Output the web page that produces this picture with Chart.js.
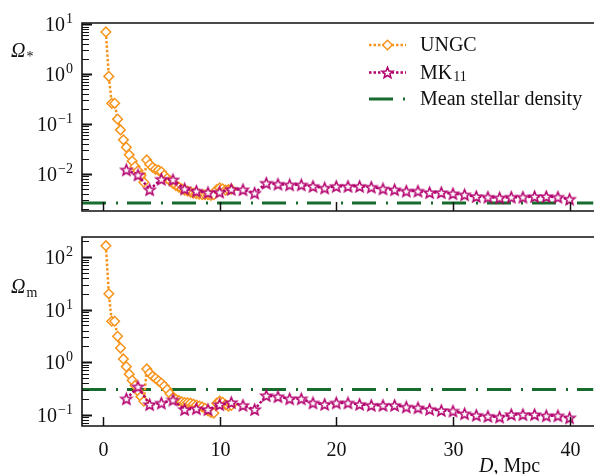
<!DOCTYPE html>
<html>
<head>
<meta charset="utf-8">
<script src="https://cdn.jsdelivr.net/npm/chart.js@4.4.1/dist/chart.umd.min.js"></script>
<style>
  html, body { margin: 0; padding: 0; background: #fff; overflow: hidden; width: 594px; height: 474px; }
  canvas { position: absolute; left: 0; }
  #topChart { top: 0; }
  #bottomChart { top: 230px; }
</style>
</head>
<body>
<canvas id="topChart" width="600" height="230"></canvas>
<canvas id="bottomChart" width="600" height="244"></canvas>
<script>
// distances, Mpc
const ungcD = [0.25, 0.5, 0.75, 1.0, 1.25, 1.5, 1.75, 2.0, 2.25, 2.5, 2.75, 3.0, 3.25, 3.5, 3.75,
  4.0, 4.25, 4.5, 4.75, 5.0, 5.25, 5.5, 5.75, 6.0, 6.25, 6.5, 6.75, 7.0, 7.25, 7.5, 7.75,
  8.0, 8.25, 8.5, 8.75, 9.0, 9.25, 9.5, 9.75, 10.0, 10.25, 10.5, 10.75, 11.0];
const ungcStar = [7.0, 0.9, 0.26, 0.26, 0.125, 0.076, 0.048, 0.034, 0.024, 0.018, 0.014, 0.0115, 0.0092, 0.0068, 0.019,
  0.0155, 0.0135, 0.0123, 0.0118, 0.011, 0.0093, 0.0081, 0.0072, 0.0064, 0.0058, 0.0054, 0.0050, 0.0047, 0.0045, 0.0043, 0.0041,
  0.0040, 0.0039, 0.0038, 0.0038, 0.0038, 0.0037, 0.0038, 0.0048, 0.0052, 0.0050, 0.0047, 0.0048, 0.0049];
const ungcMatter = [165, 20, 6.0, 6.0, 3.1, 1.85, 1.15, 0.82, 0.59, 0.45, 0.36, 0.28, 0.22, 0.18, 0.74,
  0.62, 0.54, 0.49, 0.44, 0.40, 0.35, 0.30, 0.25, 0.21, 0.195, 0.185, 0.175, 0.17, 0.168, 0.165, 0.158,
  0.152, 0.145, 0.14, 0.132, 0.118, 0.11, 0.107, 0.165, 0.18, 0.172, 0.155, 0.145, 0.15];

const mkD = [2, 3, 4, 5, 6, 7, 8, 9, 10, 11, 12, 13, 14, 15, 16, 17, 18, 19, 20, 21,
  22, 23, 24, 25, 26, 27, 28, 29, 30, 31, 32, 33, 34, 35, 36, 37, 38, 39, 40];
const mkStar = [0.012, 0.0095, 0.0048, 0.0078, 0.0076, 0.0050, 0.0045, 0.0042, 0.0043, 0.0049, 0.0048, 0.0041, 0.0065, 0.0062, 0.0060, 0.0060, 0.0056, 0.0052, 0.0056, 0.0056,
  0.0056, 0.0054, 0.0050, 0.0048, 0.0045, 0.0045, 0.0042, 0.0042, 0.0040, 0.0038, 0.0035, 0.0034, 0.0033, 0.0034, 0.0034, 0.0035, 0.0035, 0.0034, 0.0031];
const mkMatter = [0.20, 0.34, 0.155, 0.166, 0.19, 0.125, 0.13, 0.125, 0.155, 0.17, 0.15, 0.125, 0.23, 0.22, 0.20, 0.20, 0.167, 0.157, 0.167, 0.167,
  0.157, 0.15, 0.15, 0.15, 0.14, 0.135, 0.126, 0.12, 0.117, 0.104, 0.097, 0.093, 0.09, 0.10, 0.10, 0.10, 0.095, 0.095, 0.087];

const meanStar = 0.0026;
const meanMatter = 0.30;

const xTicks = [0, 10, 20, 30, 40];
const topExps = [-2, -1, 0, 1];
const bottomExps = [-1, 0, 1, 2];
const legendLabels = ["UNGC", "MK", "Mean stellar density"];

const X_MIN = -1.8, X_MAX = 42.05;
const ORANGE = "#f7941d";
const MAGENTA = "#b3006e";
const GREEN = "#176b2c";
const SERIF = '"Liberation Serif", "DejaVu Serif", serif';
const MEAN_DASH = [24, 10, 2, 9];
const DOTS = [2.5, 2];

// open five-point star used as point style
const makeStar = () => {
  const c = document.createElement("canvas");
  c.width = 15; c.height = 15;
  const g = c.getContext("2d");
  g.beginPath();
  for (let i = 0; i < 10; i++) {
    const r = i % 2 === 0 ? 5.8 : 2.5;
    const a = -Math.PI / 2 + i * Math.PI / 5;
    const px = 7.5 + r * Math.cos(a), py = 8 + r * Math.sin(a);
    if (i === 0) g.moveTo(px, py); else g.lineTo(px, py);
  }
  g.closePath();
  g.fillStyle = "#fff";
  g.fill();
  g.strokeStyle = MAGENTA;
  g.lineWidth = 1.5;
  g.stroke();
  return c;
};
const starImg = makeStar();

const pts = (xs, ys) => xs.map((x, i) => ({ x, y: ys[i] }));

const drawPow = (ctx, exp, xRight, yMid) => {
  const base = "10";
  const sup = exp < 0 ? "\u2212" + (-exp) : String(exp);
  ctx.font = `20px ${SERIF}`;
  const wb = ctx.measureText(base).width;
  ctx.font = `14px ${SERIF}`;
  const ws = ctx.measureText(sup).width;
  const x0 = xRight - wb - ws - 1;
  ctx.textAlign = "left";
  ctx.textBaseline = "alphabetic";
  ctx.font = `20px ${SERIF}`;
  ctx.fillText(base, x0, yMid + 7);
  ctx.font = `14px ${SERIF}`;
  ctx.fillText(sup, x0 + wb + 1, yMid - 1);
};

const framePlugin = {
  id: "frame",
  afterDraw(chart, args, opts) {
    const { ctx, chartArea: a, scales: { x, y } } = chart;
    ctx.save();
    ctx.fillStyle = "#111";
    ctx.strokeStyle = "#111";

    // y ticks (log, inward)
    const lo = Math.floor(Math.log10(y.min)), hi = Math.ceil(Math.log10(y.max));
    for (let e = lo; e <= hi; e++) {
      for (let m = 1; m <= 9; m++) {
        const v = m * Math.pow(10, e);
        if (v < y.min || v > y.max) continue;
        const py = Math.round(y.getPixelForValue(v)) + 0.5;
        ctx.lineWidth = m === 1 ? 2 : 1;
        ctx.beginPath();
        ctx.moveTo(a.left, py);
        ctx.lineTo(a.left + (m === 1 ? 10 : 7), py);
        ctx.stroke();
      }
    }
    opts.exps.forEach(e => drawPow(ctx, e, 73, y.getPixelForValue(Math.pow(10, e))));

    // x ticks (inward)
    ctx.lineWidth = 1.5;
    xTicks.forEach(t => {
      const px = Math.round(x.getPixelForValue(t)) + 0.5;
      ctx.beginPath();
      ctx.moveTo(px, a.bottom);
      ctx.lineTo(px, a.bottom - 9);
      ctx.stroke();
      if (opts.xLabels) {
        ctx.font = `20px ${SERIF}`;
        ctx.textAlign = "center";
        ctx.textBaseline = "middle";
        ctx.fillText(String(t), px, a.bottom + 25);
      }
    });

    // frame: left, top and bottom (right side falls outside the picture)
    ctx.lineWidth = 1.6;
    ctx.beginPath();
    ctx.moveTo(a.right + 5, a.top);
    ctx.lineTo(a.left, a.top);
    ctx.lineTo(a.left, a.bottom);
    ctx.lineTo(a.right + 5, a.bottom);
    ctx.stroke();

    // y title
    ctx.textAlign = "left";
    ctx.textBaseline = "alphabetic";
    ctx.font = `italic 20px ${SERIF}`;
    ctx.fillText("\u03A9", 11, opts.titleY);
    const wo = ctx.measureText("\u03A9").width;
    ctx.font = `14px ${SERIF}`;
    ctx.fillText(opts.sub, 11 + wo + 1, opts.titleY + 4);

    if (opts.xLabels) {
      ctx.font = `italic 20px ${SERIF}`;
      ctx.fillText("D", 479, 242);
      const wd = ctx.measureText("D").width;
      ctx.font = `20px ${SERIF}`;
      ctx.fillText(", Mpc", 479 + wd, 242);
    }

    if (opts.legend) {
      const x0 = 369, x1 = 406, xm = 387.5;
      const rows = [45, 72.5, 99];
      ctx.lineWidth = 2.5;
      // UNGC
      ctx.setLineDash(DOTS);
      ctx.strokeStyle = ORANGE;
      ctx.beginPath(); ctx.moveTo(x0, rows[0]); ctx.lineTo(x1, rows[0]); ctx.stroke();
      ctx.setLineDash([]);
      ctx.lineWidth = 1.5;
      ctx.fillStyle = "#fff";
      ctx.beginPath();
      ctx.moveTo(xm, rows[0] - 4.8); ctx.lineTo(xm + 4.8, rows[0]);
      ctx.lineTo(xm, rows[0] + 4.8); ctx.lineTo(xm - 4.8, rows[0]);
      ctx.closePath(); ctx.fill(); ctx.stroke();
      // MK11
      ctx.lineWidth = 2.5;
      ctx.setLineDash(DOTS);
      ctx.strokeStyle = MAGENTA;
      ctx.beginPath(); ctx.moveTo(x0, rows[1]); ctx.lineTo(x1, rows[1]); ctx.stroke();
      ctx.setLineDash([]);
      ctx.drawImage(starImg, xm - 7.5, rows[1] - 7.5);
      // mean
      ctx.lineWidth = 3;
      ctx.setLineDash(MEAN_DASH);
      ctx.strokeStyle = GREEN;
      ctx.beginPath(); ctx.moveTo(x0, rows[2]); ctx.lineTo(x1, rows[2]); ctx.stroke();
      ctx.setLineDash([]);

      ctx.fillStyle = "#111";
      ctx.font = `20px ${SERIF}`;
      ctx.textBaseline = "middle";
      ctx.fillText(legendLabels[0], 420, rows[0] + 1);
      ctx.fillText(legendLabels[1], 420, rows[1] + 1);
      const wmk = ctx.measureText(legendLabels[1]).width;
      ctx.font = `14px ${SERIF}`;
      ctx.fillText("11", 420 + wmk + 1, rows[1] + 5);
      ctx.font = `20px ${SERIF}`;
      ctx.fillText(legendLabels[2], 420, rows[2] + 1);
    }
    ctx.restore();
  }
};

const buildChart = (id, ungc, mk, mean, yMin, yMax, padding, frameOpts) => {
  new Chart(document.getElementById(id), {
    type: "line",
    data: {
      datasets: [
        {
          label: "Mean stellar density",
          data: [{ x: X_MIN, y: mean }, { x: X_MAX, y: mean }],
          borderColor: GREEN,
          borderWidth: 3,
          borderDash: MEAN_DASH,
          pointRadius: 0,
          order: 3
        },
        {
          label: "UNGC",
          data: pts(ungcD, ungc),
          borderColor: ORANGE,
          borderWidth: 2.5,
          borderDash: DOTS,
          pointStyle: "rectRot",
          pointRadius: 4.8,
          pointBorderWidth: 1.5,
          pointBorderColor: ORANGE,
          pointBackgroundColor: "#fff",
          order: 2
        },
        {
          label: "MK11",
          data: pts(mkD, mk),
          borderColor: MAGENTA,
          borderWidth: 2.5,
          borderDash: DOTS,
          pointStyle: starImg,
          order: 1
        }
      ]
    },
    options: {
      responsive: false,
      animation: false,
      layout: { padding },
      plugins: {
        legend: { display: false },
        tooltip: { enabled: false },
        frame: frameOpts
      },
      scales: {
        x: { type: "linear", min: X_MIN, max: X_MAX, display: false },
        y: { type: "logarithmic", min: yMin, max: yMax, display: false }
      }
    },
    plugins: [framePlugin]
  });
};

buildChart("topChart", ungcStar, mkStar, meanStar, 0.001795, 10.6,
  { left: 82, right: 4, top: 23, bottom: 19 },
  { exps: topExps, xLabels: false, legend: true, sub: "*", titleY: 57 });

buildChart("bottomChart", ungcMatter, mkMatter, meanMatter, 0.0607, 241.5,
  { left: 82, right: 4, top: 7, bottom: 48 },
  { exps: bottomExps, xLabels: true, legend: false, sub: "m", titleY: 63 });
</script>
</body>
</html>
